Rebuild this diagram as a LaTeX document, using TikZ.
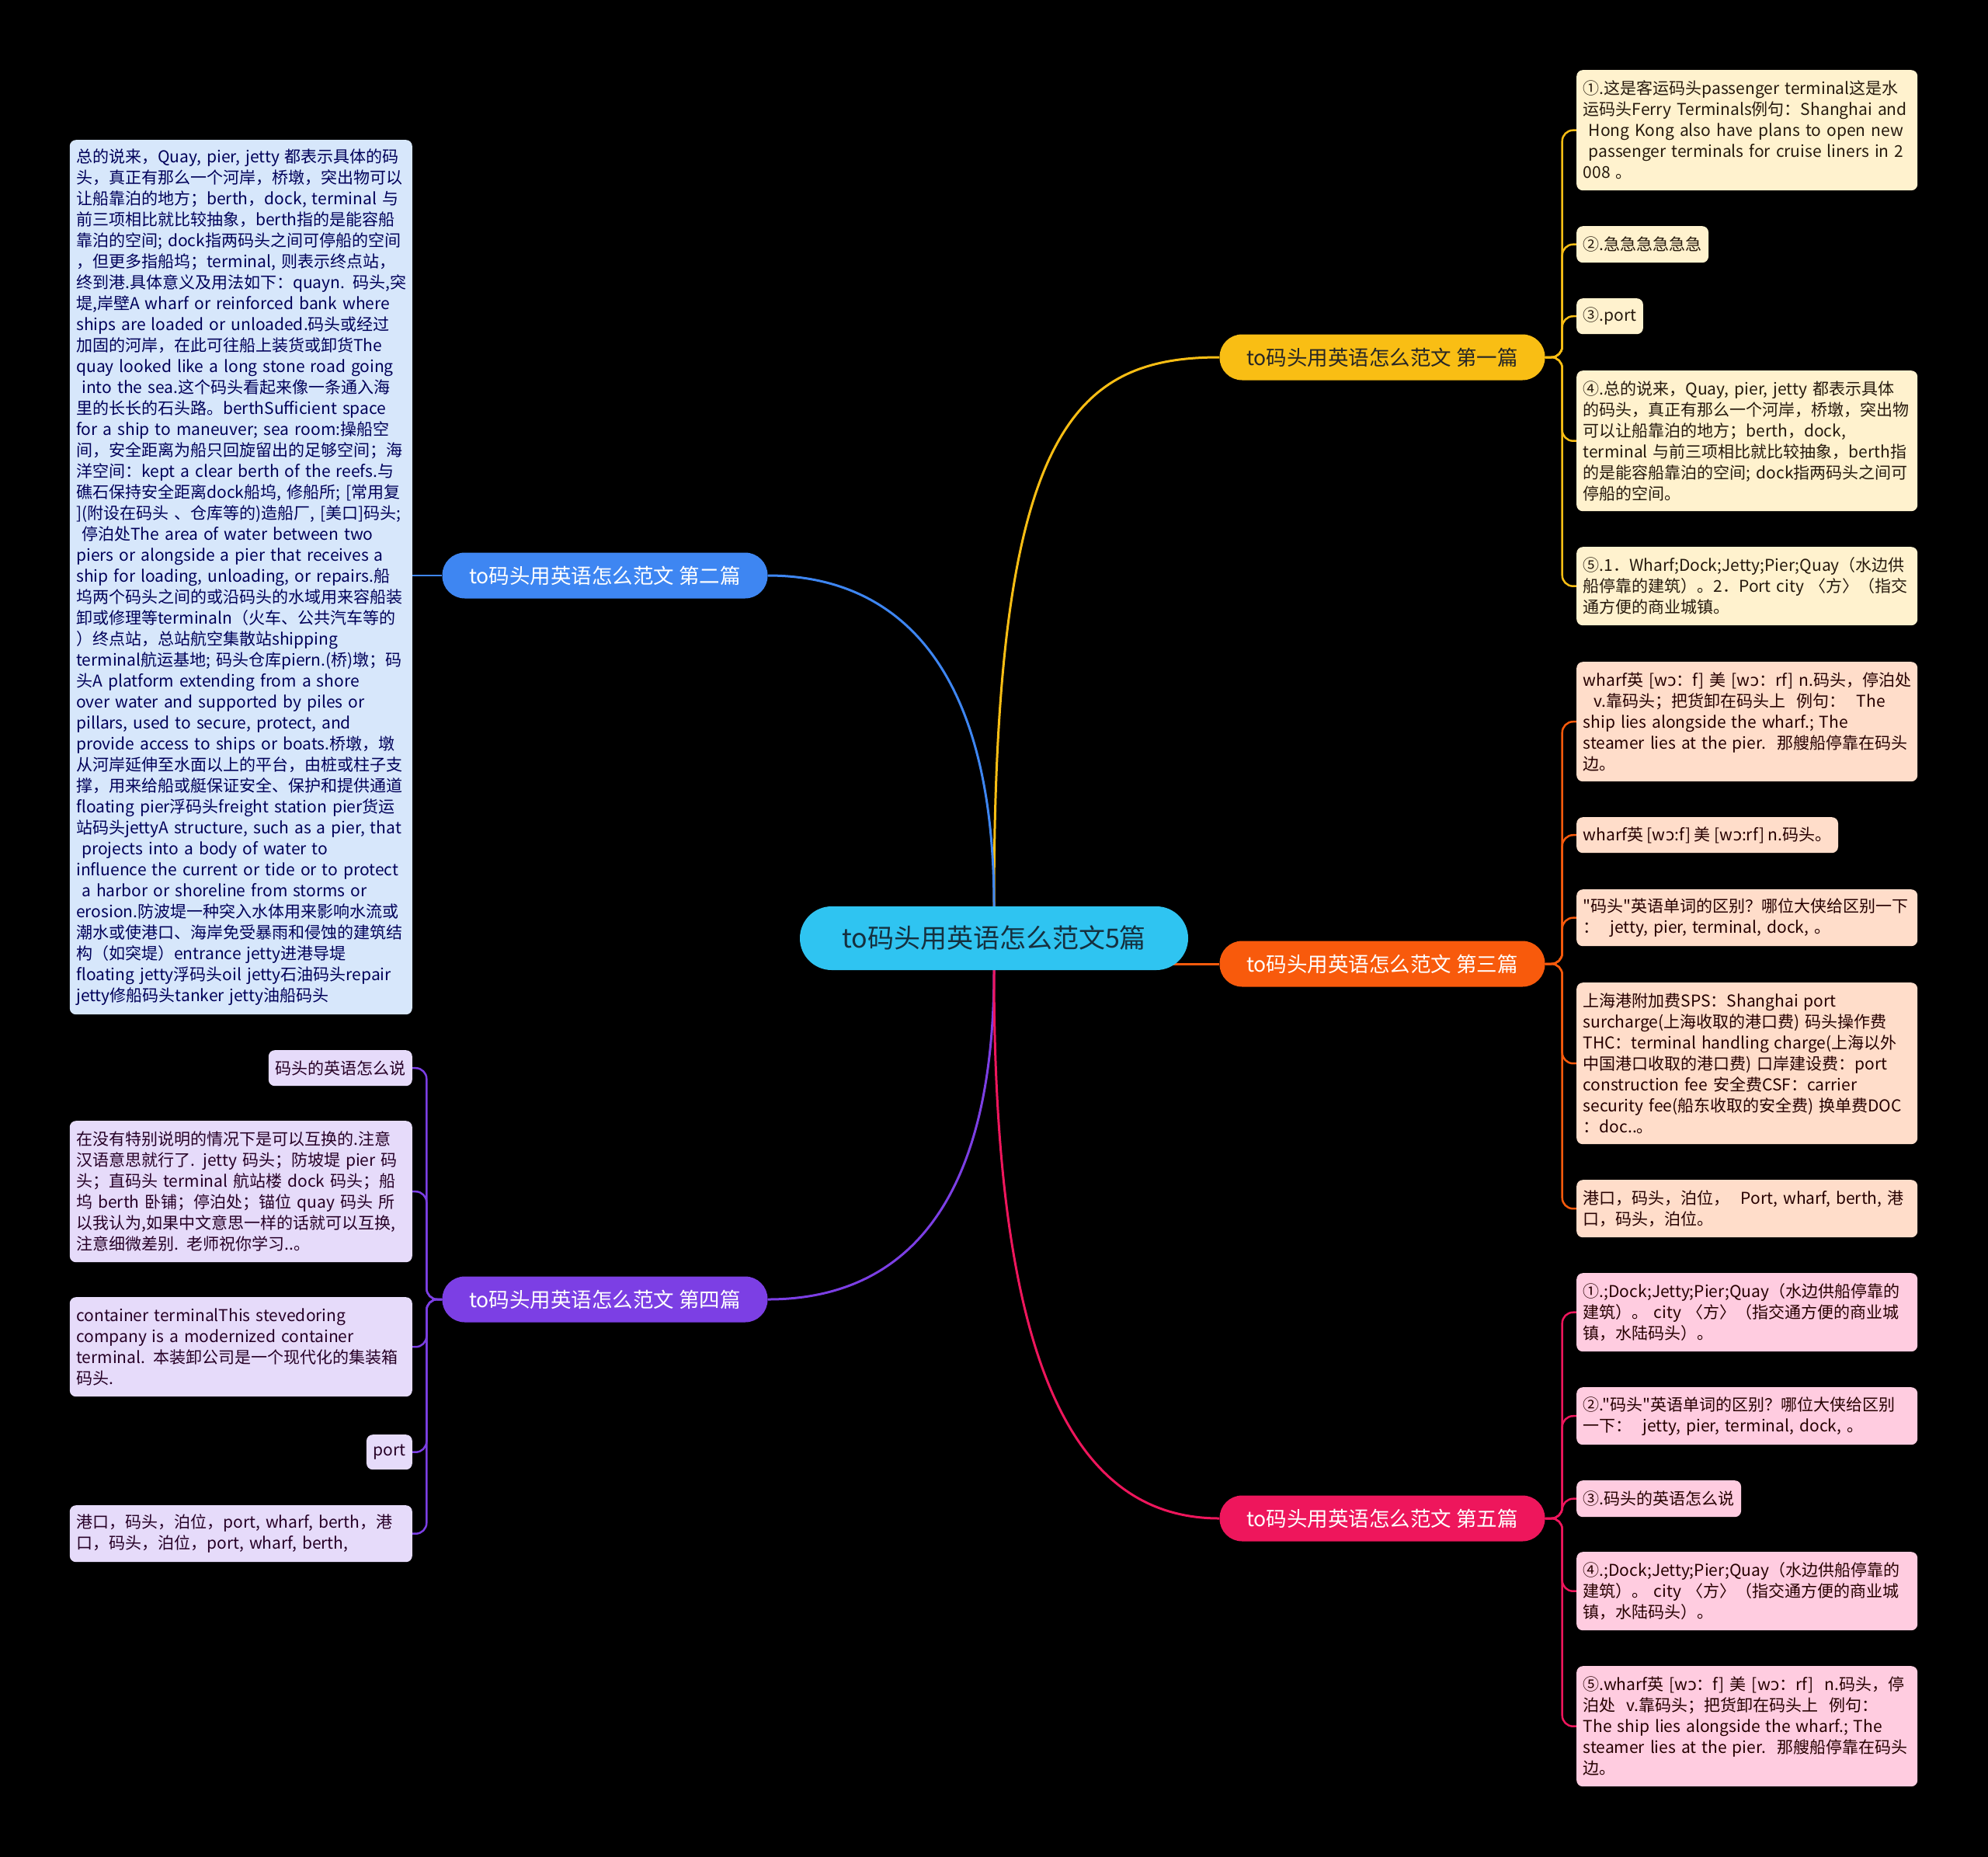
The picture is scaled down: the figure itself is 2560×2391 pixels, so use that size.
\documentclass[tikz,border=0pt]{standalone}
\usepackage{fontspec}
\setmainfont{Noto Sans CJK SC}
\newfontfamily\cjk{Noto Sans CJK SC}
\newfontfamily\ipafont{DejaVu Sans}
\newcommand\oo{{\ipafont ɔ}}
\definecolor{rootc}{HTML}{2FC4F1}
\definecolor{roottx}{HTML}{15303F}
\definecolor{ylw}{HTML}{F9BE14}
\definecolor{blu}{HTML}{3E86F2}
\definecolor{org}{HTML}{F85A0C}
\definecolor{ppl}{HTML}{7C3FE4}
\definecolor{pnk}{HTML}{EE165C}
\definecolor{ylwl}{HTML}{FFF2CE}
\definecolor{blul}{HTML}{D7E7FB}
\definecolor{orgl}{HTML}{FFDDCA}
\definecolor{pplll}{HTML}{E6DBFA}
\definecolor{pnkl}{HTML}{FFCCE0}
\pgfdeclarelayer{bg}
\pgfdeclarelayer{edges}
\pgfsetlayers{bg,edges,main}
\begin{document}
\begin{tikzpicture}[x=1pt,y=-1pt,
  root/.style={fill=rootc,text=roottx,rounded corners=41pt,minimum width=500pt,minimum height=82pt,font=\cjk\fontsize{34}{40}\selectfont},
  branch/.style={rounded corners=29pt,minimum width=419pt,minimum height=59pt,font=\cjk\fontsize{26.5}{30}\selectfont},
  leaf/.style={rounded corners=8pt,align=left,inner xsep=8.5pt,inner ysep=0pt,font=\cjk\fontsize{21}{27}\selectfont,
    execute at begin node={\rightskip=0pt plus 1fil minus 300pt\relax}},
  rleaf/.style={leaf,anchor=north west},
  lleaf/.style={leaf,anchor=north east},
  wide/.style={text width=422pt},
  lwide/.style={text width=424pt},
  yleaf/.style={rleaf,fill=ylwl,text=black!80!brown},
  oleaf/.style={rleaf,fill=orgl,text=black!85!red},
  pleaf/.style={rleaf,fill=pnkl,text=black!85!red},
  bleaf/.style={lleaf,fill=blul,text=blue!35!black},
  uleaf/.style={lleaf,fill=pplll,text=violet!30!black},
  link/.style={line width=3pt},
  twig/.style={line width=2.5pt,rounded corners=14pt}]
\useasboundingbox (0,0) rectangle (2560,2391);
\begin{pgfonlayer}{bg}
\fill[black] (0,0) rectangle (2560,2391);
\end{pgfonlayer}

\node[root] (root) at (1280,1208) {to码头用英语怎么范文5篇};
\node[branch,fill=ylw,text=black!85] (b1) at (1780,460) {to码头用英语怎么范文 第一篇};
\node[branch,fill=blu,text=white] (b2) at (779,741) {to码头用英语怎么范文 第二篇};
\node[branch,fill=org,text=white] (b3) at (1780,1241) {to码头用英语怎么范文 第三篇};
\node[branch,fill=ppl,text=white] (b4) at (779,1673) {to码头用英语怎么范文 第四篇};
\node[branch,fill=pnk,text=white] (b5) at (1780,1955) {to码头用英语怎么范文 第五篇};

\node[yleaf,wide,minimum height=155pt] (y1) at (2030,90) {①.这是客运码头passenger terminal这是水\\运码头Ferry Terminals例句：Shanghai and\\\ Hong Kong also have plans to open new\\\ passenger terminals for cruise liners in 2\\008 。};
\node[yleaf,minimum height=47pt] (y2) at (2030,291) {②.急急急急急急};
\node[yleaf,minimum height=46pt] (y3) at (2030,384) {③.port};
\node[yleaf,wide,minimum height=181pt] (y4) at (2030,477) {④.总的说来，Quay, pier, jetty 都表示具体\\的码头，真正有那么一个河岸，桥墩，突出物\\可以让船靠泊的地方；berth，dock,\\terminal 与前三项相比就比较抽象，berth指\\的是能容船靠泊的空间; dock指两码头之间可\\停船的空间。};
\node[yleaf,wide,minimum height=101pt] (y5) at (2030,704) {⑤.1．Wharf;Dock;Jetty;Pier;Quay（水边供\\船停靠的建筑）。2．Port city 〈方〉（指交\\通方便的商业城镇。};

\node[oleaf,wide,minimum height=154pt] (o1) at (2030,852) {wharf英 [w\oo：f] 美 [w\oo：rf] n.码头，停泊处\\\ \ v.靠码头；把货卸在码头上\ \ 例句：\ \ The\\ship lies alongside the wharf.; The\\steamer lies at the pier.\ \ 那艘船停靠在码头\\边。};
\node[oleaf,minimum height=46pt] (o2) at (2030,1052) {wharf英 [w\oo:f] 美 [w\oo:rf] n.码头。};
\node[oleaf,wide,minimum height=73pt] (o3) at (2030,1145) {"码头"英语单词的区别？哪位大侠给区别一下\\：\ \ jetty, pier, terminal, dock, 。};
\node[oleaf,wide,minimum height=208pt] (o4) at (2030,1265) {上海港附加费SPS：Shanghai port\\surcharge(上海收取的港口费) 码头操作费\\THC：terminal handling charge(上海以外\\中国港口收取的港口费) 口岸建设费：port\\construction fee 安全费CSF：carrier\\security fee(船东收取的安全费) 换单费DOC\\：doc..。};
\node[oleaf,wide,minimum height=74pt] (o5) at (2030,1519) {港口，码头，泊位，\ \ Port, wharf, berth, 港\\口，码头，泊位。};

\node[pleaf,wide,minimum height=101pt] (p1) at (2030,1639) {①.;Dock;Jetty;Pier;Quay（水边供船停靠的\\建筑）。 city 〈方〉（指交通方便的商业城\\镇，水陆码头）。};
\node[pleaf,wide,minimum height=74pt] (p2) at (2030,1786) {②."码头"英语单词的区别？哪位大侠给区别\\一下：\ \ jetty, pier, terminal, dock, 。};
\node[pleaf,minimum height=47pt] (p3) at (2030,1906) {③.码头的英语怎么说};
\node[pleaf,wide,minimum height=101pt] (p4) at (2030,1998) {④.;Dock;Jetty;Pier;Quay（水边供船停靠的\\建筑）。 city 〈方〉（指交通方便的商业城\\镇，水陆码头）。};
\node[pleaf,wide,minimum height=155pt] (p5) at (2030,2145) {⑤.wharf英 [w\oo：f] 美 [w\oo：rf]\ \ n.码头，停\\泊处\ \ v.靠码头；把货卸在码头上\ \ 例句：\\The ship lies alongside the wharf.; The\\steamer lies at the pier.\ \ 那艘船停靠在码头\\边。};

\node[bleaf,lwide,minimum height=1126pt] (bl) at (531,180) {总的说来，Quay, pier, jetty 都表示具体的码\\头，真正有那么一个河岸，桥墩，突出物可以\\让船靠泊的地方；berth，dock, terminal 与\\前三项相比就比较抽象，berth指的是能容船\\靠泊的空间; dock指两码头之间可停船的空间\\，但更多指船坞；terminal, 则表示终点站，\\终到港.具体意义及用法如下：quayn. 码头,突\\堤,岸壁A wharf or reinforced bank where\\ships are loaded or unloaded.码头或经过\\加固的河岸，在此可往船上装货或卸货The\\quay looked like a long stone road going\\\ into the sea.这个码头看起来像一条通入海\\里的长长的石头路。berthSufficient space\\for a ship to maneuver; sea room:操船空\\间，安全距离为船只回旋留出的足够空间；海\\洋空间：kept a clear berth of the reefs.与\\礁石保持安全距离dock船坞, 修船所; [常用复\\](附设在码头 、仓库等的)造船厂, [美口]码头;\\\ 停泊处The area of water between two\\piers or alongside a pier that receives a\\ship for loading, unloading, or repairs.船\\坞两个码头之间的或沿码头的水域用来容船装\\卸或修理等terminaln（火车、公共汽车等的\\）终点站，总站航空集散站shipping\\terminal航运基地; 码头仓库piern.(桥)墩；码\\头A platform extending from a shore\\over water and supported by piles or\\pillars, used to secure, protect, and\\provide access to ships or boats.桥墩，墩\\从河岸延伸至水面以上的平台，由桩或柱子支\\撑，用来给船或艇保证安全、保护和提供通道\\floating pier浮码头freight station pier货运\\站码头jettyA structure, such as a pier, that\\\ projects into a body of water to\\influence the current or tide or to protect\\\ a harbor or shoreline from storms or\\erosion.防波堤一种突入水体用来影响水流或\\潮水或使港口、海岸免受暴雨和侵蚀的建筑结\\构（如突堤）entrance jetty进港导堤\\floating jetty浮码头oil jetty石油码头repair\\jetty修船码头tanker jetty油船码头};

\node[uleaf,minimum height=46pt] (u1) at (531,1352) {码头的英语怎么说};
\node[uleaf,lwide,minimum height=182pt] (u2) at (531,1443) {在没有特别说明的情况下是可以互换的.注意\\汉语意思就行了. jetty 码头；防坡堤 pier 码\\头；直码头 terminal 航站楼 dock 码头；船\\坞 berth 卧铺；停泊处；锚位 quay 码头 所\\以我认为,如果中文意思一样的话就可以互换,\\注意细微差别. 老师祝你学习..。};
\node[uleaf,lwide,minimum height=128pt] (u3) at (531,1670) {container terminalThis stevedoring\\company is a modernized container\\terminal. 本装卸公司是一个现代化的集装箱\\码头.};
\node[uleaf,minimum height=45pt] (u4) at (531,1847) {port};
\node[uleaf,lwide,minimum height=73pt] (u5) at (531,1938) {港口，码头，泊位，port, wharf, berth，港\\口，码头，泊位，port, wharf, berth,};

\begin{pgfonlayer}{edges}
\draw[link,ylw] (root.north) .. controls +(0,-607) and +(-191,0) .. (b1.west);
\draw[link,blu] (root.north) .. controls +(0,-317) and +(161,0) .. (b2.east);
\draw[link,org] (root.center |- b3.west) -- (b3.west);
\draw[link,ppl] (root.south) .. controls +(0,321) and +(161,0) .. (b4.east);
\draw[link,pnk] (root.south) .. controls +(0,501) and +(-191,0) .. (b5.west);
\foreach \n in {y1,y2,y3,y4,y5}
  \draw[twig,ylw] (b1.east) -- ++(22,0) |- (\n.west);
\foreach \n in {o1,o2,o3,o4,o5}
  \draw[twig,org] (b3.east) -- ++(22,0) |- (\n.west);
\foreach \n in {p1,p2,p3,p4,p5}
  \draw[twig,pnk] (b5.east) -- ++(22,0) |- (\n.west);
\foreach \n in {u1,u2,u3,u4,u5}
  \draw[twig,ppl] (b4.west) -- ++(-20,0) |- (\n.east);
\draw[twig,blu] (b2.west) -- (b2.west -| bl.east);
\end{pgfonlayer}
\end{tikzpicture}
\end{document}
